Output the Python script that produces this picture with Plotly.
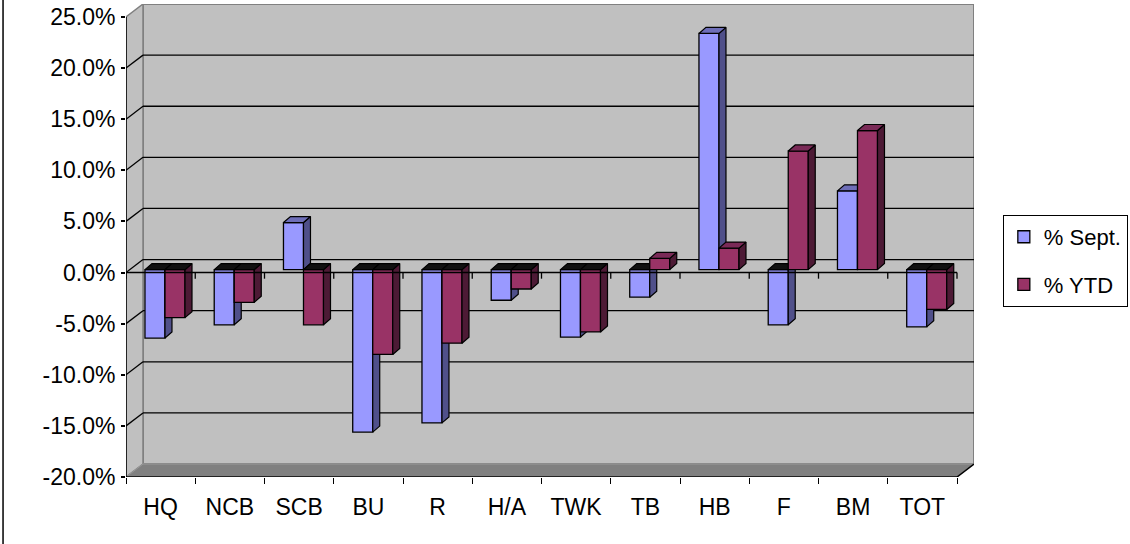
import plotly.graph_objects as go

# ---------------- data ----------------
categories = ["HQ", "NCB", "SCB", "BU", "R", "H/A", "TWK", "TB", "HB", "F", "BM", "TOT"]
sept_pct = [-6.7, -5.4, 4.6, -15.9, -15.0, -3.0, -6.6, -2.7, 23.1, -5.4, 7.7, -5.6]
ytd_pct = [-4.7, -3.2, -5.4, -8.3, -7.2, -1.9, -6.1, 1.1, 2.1, 11.6, 13.6, -3.9]
y_ticks = [-20, -15, -10, -5, 0, 5, 10, 15, 20, 25]
series_names = ["% Sept.", "% YTD"]

# ---------------- 3D geometry (axis units) ----------------
X_LO, X_HI = -0.5, len(categories) - 0.5
Y_LO, Y_HI = -20, 25
DX_WALL, DY_WALL = 0.2455, 1.27      # depth offset of back wall
BAR_BASE = 0.29                      # bars sit slightly behind the front plane
BAR_W = 0.289
OFFSETS = [-0.226, 0.063]
DX_BAR, DY_BAR = 0.101, 0.59         # bar depth

FONT = "Liberation Sans, Arial, sans-serif"
FRONT = ["#9999FF", "#993366"]
SIDE = ["#50508A", "#4D1A35"]
TOP = ["#6E6EB8", "#7A2A57"]

xs = list(range(len(categories)))


def face_paths(vals, off):
    side_x, side_y = [], []
    tp_x, tp_y, tn_x, tn_y = [], [], [], []
    for i, v in zip(xs, vals):
        x0 = i + off
        x1 = x0 + BAR_W
        b = BAR_BASE
        t = BAR_BASE + v
        side_x += [x1, x1, x1 + DX_BAR, x1 + DX_BAR, x1, None]
        side_y += [b, t, t + DY_BAR, b + DY_BAR, b, None]
        ty = max(b, t)
        px = [x0, x1, x1 + DX_BAR, x0 + DX_BAR, x0, None]
        py = [ty, ty, ty + DY_BAR, ty + DY_BAR, ty, None]
        if v >= 0:
            tp_x += px
            tp_y += py
        else:
            tn_x += px
            tn_y += py
    return (side_x, side_y), (tp_x, tp_y), (tn_x, tn_y)


fig = go.Figure()

for k, (name, vals) in enumerate(zip(series_names, [sept_pct, ytd_pct])):
    xa = "x" if k == 0 else "x2"
    ya = "y" if k == 0 else "y2"
    fig.add_trace(go.Bar(
        x=xs, y=vals, base=BAR_BASE, offset=OFFSETS[k], width=BAR_W,
        name=name, legendgroup=name,
        marker=dict(color=FRONT[k], line=dict(color="black", width=1.3)),
        xaxis=xa, yaxis=ya, hoverinfo="skip",
    ))
    (sx, sy), (tpx, tpy), (tnx, tny) = face_paths(vals, OFFSETS[k])
    fig.add_trace(go.Scatter(x=sx, y=sy, mode="lines", fill="toself",
                             fillcolor=SIDE[k], line=dict(color="black", width=1.2),
                             showlegend=False, xaxis=xa, yaxis=ya, hoverinfo="skip"))
    if tpx:
        fig.add_trace(go.Scatter(x=tpx, y=tpy, mode="lines", fill="toself",
                                 fillcolor=TOP[k], line=dict(color="black", width=1.2),
                                 showlegend=False, xaxis=xa, yaxis=ya, hoverinfo="skip"))
    if tnx:
        fig.add_trace(go.Scatter(x=tnx, y=tny, mode="lines", fill="toself",
                                 fillcolor="#111111", line=dict(color="black", width=1.2),
                                 showlegend=False, xaxis=xa, yaxis=ya, hoverinfo="skip"))

shapes = []
# back wall
shapes.append(dict(type="rect", xref="x", yref="y", layer="below",
                   x0=X_LO + DX_WALL, x1=X_HI + DX_WALL, y0=Y_LO + DY_WALL, y1=Y_HI + DY_WALL,
                   fillcolor="#C0C0C0", line=dict(color="#808080", width=2)))
# side wall
shapes.append(dict(type="path", xref="x", yref="y", layer="below",
                   path=f"M {X_LO},{Y_LO} L {X_LO},{Y_HI} L {X_LO + DX_WALL},{Y_HI + DY_WALL} "
                        f"L {X_LO + DX_WALL},{Y_LO + DY_WALL} Z",
                   fillcolor="#C0C0C0", line=dict(color="#808080", width=1.5)))
# floor
shapes.append(dict(type="path", xref="x", yref="y", layer="below",
                   path=f"M {X_LO},{Y_LO} L {X_HI},{Y_LO} L {X_HI + DX_WALL},{Y_LO + DY_WALL} "
                        f"L {X_LO + DX_WALL},{Y_LO + DY_WALL} Z",
                   fillcolor="#808080", line=dict(color="#999999", width=1)))
# gridlines on back wall and side wall
for v in y_ticks:
    if v in (Y_LO, Y_HI):
        continue
    shapes.append(dict(type="line", xref="x", yref="y", layer="below",
                       x0=X_LO + DX_WALL, x1=X_HI + DX_WALL, y0=v + DY_WALL, y1=v + DY_WALL,
                       line=dict(color="black", width=1.3)))
    shapes.append(dict(type="line", xref="x", yref="y", layer="below",
                       x0=X_LO, x1=X_LO + DX_WALL, y0=v, y1=v + DY_WALL,
                       line=dict(color="black", width=1.3)))
# front value axis line
shapes.append(dict(type="line", xref="x", yref="y", layer="above",
                   x0=X_LO, x1=X_LO, y0=Y_LO, y1=Y_HI, line=dict(color="black", width=1.5)))
# front floor edge
shapes.append(dict(type="line", xref="x", yref="y", layer="above",
                   x0=X_LO, x1=X_HI, y0=Y_LO, y1=Y_LO, line=dict(color="black", width=1.5)))
shapes.append(dict(type="line", xref="x", yref="y", layer="above",
                   x0=X_HI, x1=X_HI + DX_WALL, y0=Y_LO, y1=Y_LO + DY_WALL,
                   line=dict(color="black", width=1.5)))
# category axis crossing at zero
shapes.append(dict(type="line", xref="x", yref="y", layer="above",
                   x0=X_LO, x1=X_HI, y0=0, y1=0, line=dict(color="black", width=1.5)))
for j in range(len(categories) + 1):
    xb = X_LO + j
    shapes.append(dict(type="line", xref="x", yref="y", layer="above",
                       x0=xb, x1=xb, y0=0, y1=-0.6, line=dict(color="black", width=1.3)))
# chart area border (left edge)
shapes.append(dict(type="line", xref="paper", yref="paper", layer="above",
                   x0=-0.145, x1=-0.145, y0=-0.2, y1=1.05, line=dict(color="black", width=1.5)))

x_range = [X_LO, X_HI + DX_WALL]
y_range = [Y_LO, Y_HI + DY_WALL]

fig.update_layout(
    width=1130, height=544,
    margin=dict(l=126, r=156, t=4, b=67, autoexpand=False),
    paper_bgcolor="white", plot_bgcolor="white",
    font=dict(family=FONT, size=23, color="black"),
    barmode="overlay",
    shapes=shapes,
    xaxis=dict(range=x_range, tickmode="array", tickvals=xs, ticktext=categories,
               ticks="", showgrid=False, zeroline=False, showline=False, automargin=False,
               tickfont=dict(family=FONT, size=23, color="black"),
               ticklabelstandoff=14,
               minor=dict(tickmode="array", tickvals=[X_LO + j for j in range(len(categories) + 1)],
                          ticks="outside", ticklen=6, tickwidth=1.3, tickcolor="black",
                          showgrid=False)),
    yaxis=dict(range=y_range, tickmode="array", tickvals=y_ticks,
               ticktext=[f"{v:.1f}%" for v in y_ticks],
               ticks="outside", ticklen=4, tickwidth=1.5, tickcolor="black",
               showgrid=False, zeroline=False, showline=False, automargin=False,
               tickfont=dict(family=FONT, size=23, color="black"),
               ticklabelstandoff=1),
    xaxis2=dict(range=x_range, overlaying="x", visible=False),
    yaxis2=dict(range=y_range, overlaying="y", visible=False),
    legend=dict(x=1.034, y=0.554, xanchor="left", yanchor="top",
                bgcolor="white", bordercolor="black", borderwidth=1,
                font=dict(family=FONT, size=22, color="black"),
                traceorder="grouped", tracegroupgap=16, itemwidth=30),
    showlegend=True,
)

fig.write_html("out.html", post_script="document.body.style.margin='0';",
               config={"displayModeBar": False})
